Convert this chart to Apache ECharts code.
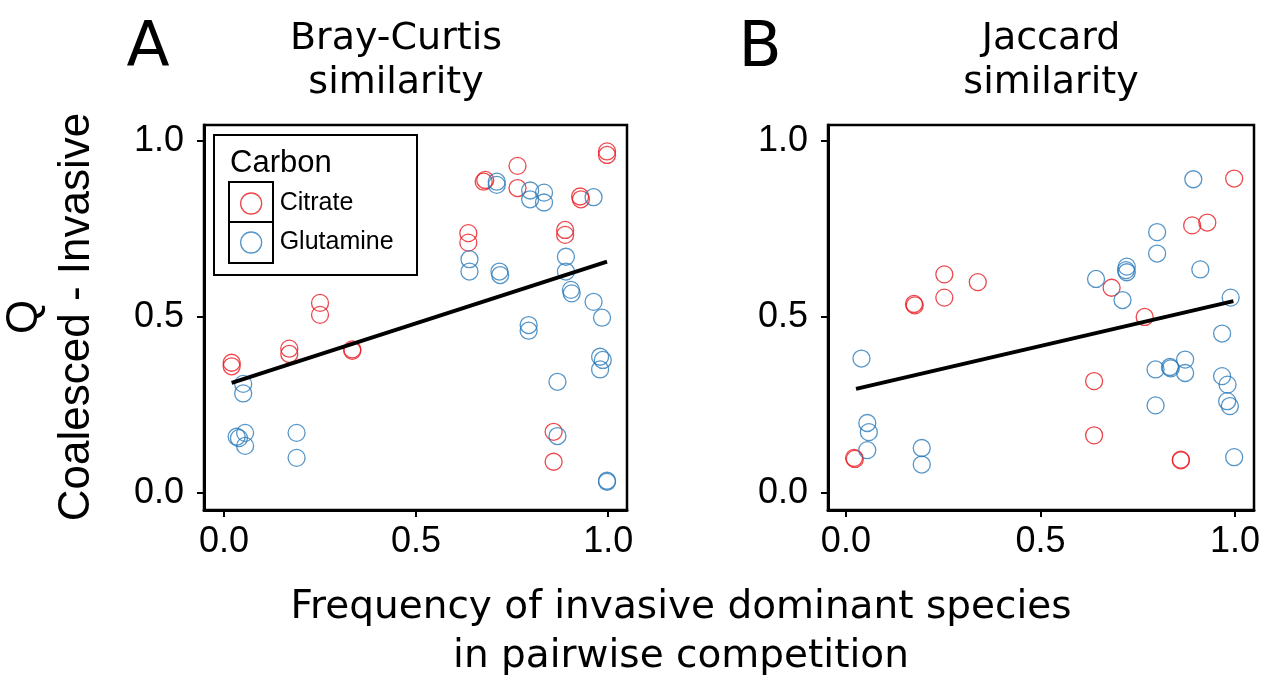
<!DOCTYPE html>
<html lang="en">
<head>
<meta charset="UTF-8">
<title>Q coalesced - invasive</title>
<script src="https://cdn.jsdelivr.net/npm/echarts@6/dist/echarts.min.js"></script>
<style>
  html, body { margin: 0; padding: 0; background: #fff; }
</style>
</head>
<body>
<div id="main" style="width: 1271px; height: 681px;"></div>
<script>
// panel A: Bray-Curtis similarity
var citrateA = [
  [0.02, 0.37], [0.02, 0.36], [0.17, 0.41], [0.17, 0.395], [0.25, 0.54], [0.25, 0.506],
  [0.334, 0.408], [0.334, 0.404], [0.636, 0.738], [0.636, 0.711], [0.68, 0.889], [0.676, 0.884],
  [0.764, 0.929], [0.764, 0.866], [0.888, 0.747], [0.888, 0.733], [0.927, 0.842], [0.929, 0.834],
  [0.997, 0.97], [0.997, 0.96], [0.858, 0.174], [0.858, 0.089]
];
var glutamineA = [
  [0.05, 0.31], [0.05, 0.283], [0.033, 0.16], [0.039, 0.156], [0.055, 0.171], [0.055, 0.134],
  [0.189, 0.171], [0.189, 0.10], [0.639, 0.664], [0.639, 0.629], [0.71, 0.884], [0.71, 0.875],
  [0.717, 0.629], [0.719, 0.619], [0.797, 0.859], [0.797, 0.834], [0.833, 0.853], [0.833, 0.825],
  [0.89, 0.671], [0.89, 0.629], [0.903, 0.577], [0.905, 0.567], [0.962, 0.84], [0.962, 0.543],
  [0.984, 0.498], [0.793, 0.477], [0.793, 0.461], [0.979, 0.387], [0.986, 0.378], [0.979, 0.351],
  [0.868, 0.316], [0.868, 0.162], [0.997, 0.035], [0.997, 0.032]
];
var fitA = [[0.02, 0.313], [0.997, 0.657]];

// panel B: Jaccard similarity
var citrateB = [
  [0.253, 0.621], [0.253, 0.555], [0.339, 0.599], [0.175, 0.537], [0.177, 0.533], [0.021, 0.10],
  [0.023, 0.097], [0.998, 0.893], [0.89, 0.76], [0.929, 0.768], [0.683, 0.583], [0.768, 0.50],
  [0.638, 0.318], [0.638, 0.164], [0.861, 0.095], [0.861, 0.093]
];
var glutamineB = [
  [0.04, 0.382], [0.055, 0.199], [0.059, 0.173], [0.055, 0.122], [0.195, 0.128], [0.195, 0.081],
  [0.893, 0.891], [0.80, 0.741], [0.80, 0.68], [0.911, 0.635], [0.722, 0.643], [0.72, 0.633],
  [0.722, 0.627], [0.643, 0.608], [0.711, 0.548], [0.989, 0.555], [0.967, 0.453], [0.796, 0.351],
  [0.833, 0.358], [0.835, 0.354], [0.872, 0.379], [0.872, 0.341], [0.967, 0.332], [0.981, 0.308],
  [0.98, 0.261], [0.987, 0.247], [0.796, 0.249], [0.998, 0.102]
];
var fitB = [[0.026, 0.296], [0.996, 0.545]];

var tickValues = [0, 0.5, 1];

var RED = '#e8191f';
var BLUE = '#2b7bba';
var TICK_FONT = '"Liberation Sans", Arial, sans-serif';
var TITLE_FONT = '"DejaVu Sans", sans-serif';

var chart = echarts.init(document.getElementById('main'));

function xAxisFor(gridIndex, min) {
  return {
    type: 'value', gridIndex: gridIndex, min: min, max: 1.049,
    splitLine: { show: false },
    axisLine: { show: true, onZero: false, lineStyle: { color: '#000', width: 3 } },
    axisTick: { show: true, customValues: tickValues, length: 7, lineStyle: { color: '#000', width: 2 } },
    axisLabel: {
      customValues: tickValues, margin: 14, color: '#000',
      fontFamily: TICK_FONT, fontSize: 36,
      formatter: function (v) { return v.toFixed(1); }
    }
  };
}
function yAxisFor(gridIndex) {
  return {
    type: 'value', gridIndex: gridIndex, min: -0.048, max: 1.045,
    splitLine: { show: false },
    axisLine: { show: true, onZero: false, lineStyle: { color: '#000', width: 3 } },
    axisTick: { show: true, customValues: tickValues, length: 7, lineStyle: { color: '#000', width: 2 } },
    axisLabel: {
      customValues: tickValues, margin: 20, color: '#000',
      fontFamily: TICK_FONT, fontSize: 36,
      formatter: function (v) { return v.toFixed(1); }
    }
  };
}
function pts(name, data, color, idx) {
  return {
    name: name, type: 'scatter', xAxisIndex: idx, yAxisIndex: idx,
    data: data, symbol: 'circle', symbolSize: 17,
    itemStyle: { color: 'transparent', borderColor: color, borderWidth: 1.3 },
    emphasis: { disabled: true }, z: 3
  };
}
function fit(data, idx) {
  return {
    name: 'fit' + idx, type: 'line', xAxisIndex: idx, yAxisIndex: idx,
    data: data, showSymbol: false, symbol: 'none',
    lineStyle: { color: '#000', width: 4 }, z: 4, silent: true
  };
}

var option = {
  animation: false,
  backgroundColor: '#fff',
  grid: [
    { left: 204, top: 125, width: 423, height: 385, show: true, borderColor: '#000', borderWidth: 2.5 },
    { left: 828, top: 125, width: 426, height: 385, show: true, borderColor: '#000', borderWidth: 2.5 }
  ],
  xAxis: [xAxisFor(0, -0.052), xAxisFor(1, -0.046)],
  yAxis: [yAxisFor(0), yAxisFor(1)],
  legend: {
    orient: 'vertical', left: 240, top: 191, padding: 0,
    itemWidth: 21, itemHeight: 21, itemGap: 14,
    icon: 'circle',
    textStyle: { fontFamily: TICK_FONT, fontSize: 25, color: '#000', padding: [0, 0, 0, 13] },
    data: [
      { name: 'Citrate', itemStyle: { color: 'transparent', borderColor: RED, borderWidth: 1.3 } },
      { name: 'Glutamine', itemStyle: { color: 'transparent', borderColor: BLUE, borderWidth: 1.3 } }
    ],
    selectedMode: false
  },
  graphic: [
    // panel letters and titles
    { type: 'text', x: 148, y: 50, style: { text: 'A', font: '63px ' + TITLE_FONT, fill: '#000', textAlign: 'center', textVerticalAlign: 'middle' } },
    { type: 'text', x: 760, y: 50, style: { text: 'B', font: '63px ' + TITLE_FONT, fill: '#000', textAlign: 'center', textVerticalAlign: 'middle' } },
    { type: 'text', x: 396, y: 61, style: { text: 'Bray-Curtis\nsimilarity', font: '38px ' + TITLE_FONT, lineHeight: 44, fill: '#000', textAlign: 'center', textVerticalAlign: 'middle' } },
    { type: 'text', x: 1051, y: 61, style: { text: 'Jaccard\nsimilarity', font: '38px ' + TITLE_FONT, lineHeight: 44, fill: '#000', textAlign: 'center', textVerticalAlign: 'middle' } },
    // shared axis titles
    { type: 'text', x: 681, y: 632, style: { text: 'Frequency of invasive dominant species\nin pairwise competition', font: '39px ' + TITLE_FONT, lineHeight: 49, fill: '#000', textAlign: 'center', textVerticalAlign: 'middle' } },
    { type: 'text', x: 51, y: 317, rotation: Math.PI / 2, style: { text: 'Q\nCoalesced - Invasive', font: '44px ' + TICK_FONT, lineHeight: 52, fill: '#000', textAlign: 'center', textVerticalAlign: 'middle' } },
    // legend frame
    { type: 'rect', shape: { x: 214, y: 135, width: 203, height: 140 }, style: { fill: 'none', stroke: '#000', lineWidth: 2 }, z: 10 },
    { type: 'rect', shape: { x: 229, y: 182, width: 44, height: 40 }, style: { fill: 'none', stroke: '#000', lineWidth: 2 }, z: 10 },
    { type: 'rect', shape: { x: 229, y: 222, width: 44, height: 41 }, style: { fill: 'none', stroke: '#000', lineWidth: 2 }, z: 10 },
    { type: 'text', x: 230, y: 163, style: { text: 'Carbon', font: '31px ' + TICK_FONT, fill: '#000', textAlign: 'left', textVerticalAlign: 'middle' }, z: 10 }
  ],
  series: [
    pts('Citrate', citrateA, RED, 0),
    pts('Glutamine', glutamineA, BLUE, 0),
    fit(fitA, 0),
    pts('Citrate', citrateB, RED, 1),
    pts('Glutamine', glutamineB, BLUE, 1),
    fit(fitB, 1)
  ]
};

chart.setOption(option);
</script>
</body>
</html>
